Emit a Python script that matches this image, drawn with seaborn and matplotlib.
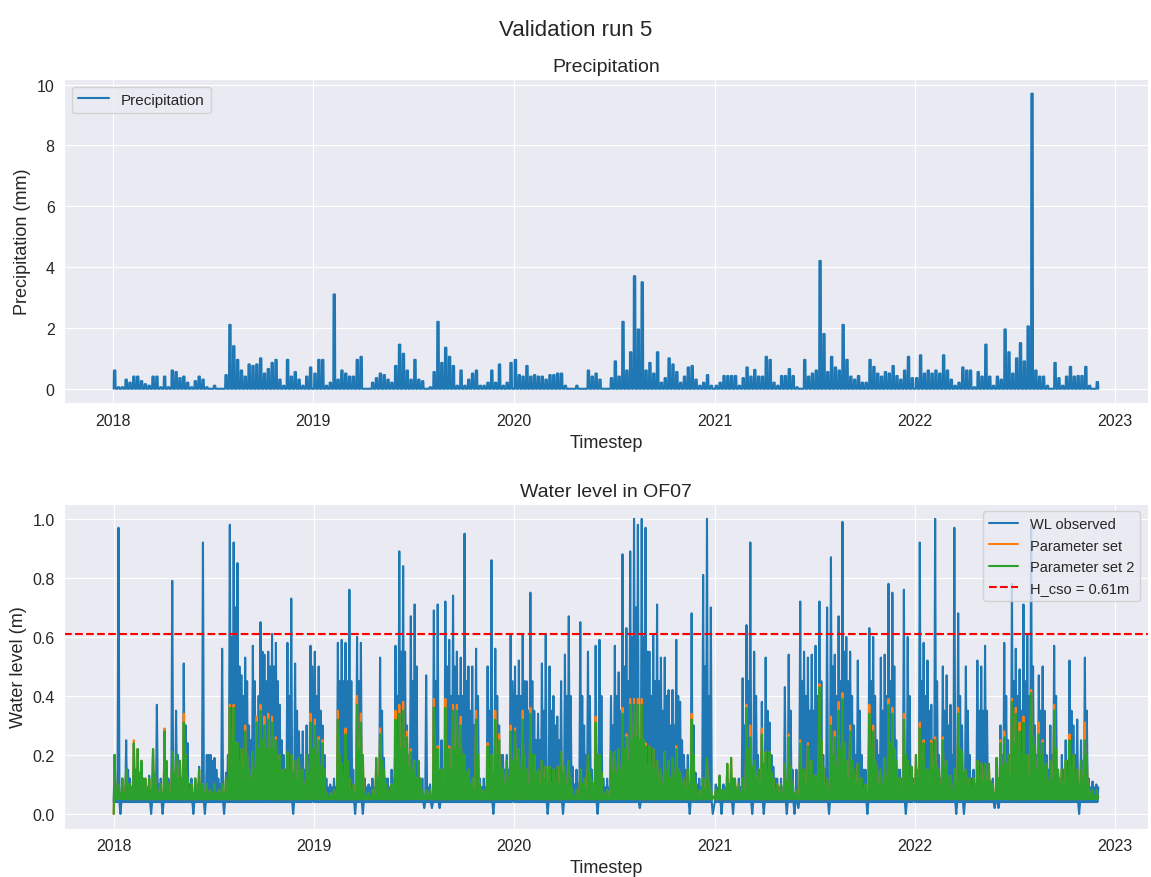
import pandas as pd
import matplotlib
matplotlib.use('Agg')
import matplotlib.pyplot as plt
import seaborn as sns

# weekly values, 52 weeks per year (2022 ends after 48 weeks)
# precipitation, highest value in each week (mm)
rain_peak = [
    0.6, 0.05, 0.05, 0.3, 0.2, 0.4, 0.4, 0.25, 0.15, 0.1, 0.4, 0.4, 0.05, 0.4, 0.05, 0.6, 0.55, 0.35, 0.4, 0.2, 0.05, 0.25, 0.4, 0.3, 0.05, 0.0,
    0.1, 0.0, 0.0, 0.45, 2.1, 1.4, 0.95, 0.6, 0.4, 0.8, 0.75, 0.8, 1.0, 0.5, 0.65, 0.85, 0.95, 0.3, 0.1, 0.95, 0.4, 0.55, 0.3, 0.1, 0.4, 0.7,
    0.5, 0.95, 0.95, 0.1, 0.2, 3.1, 0.3, 0.6, 0.5, 0.4, 0.4, 0.95, 1.05, 0.0, 0.0, 0.2, 0.35, 0.5, 0.45, 0.3, 0.2, 0.75, 1.45, 1.15, 0.6, 0.3,
    0.95, 0.3, 0.25, 0.0, 0.05, 0.55, 2.2, 0.85, 1.35, 1.05, 0.75, 0.1, 0.6, 0.1, 0.3, 0.5, 0.6, 0.1, 0.1, 0.2, 0.6, 0.2, 0.8, 0.1, 0.2, 0.85,
    0.95, 0.45, 0.4, 0.75, 0.4, 0.45, 0.4, 0.4, 0.3, 0.45, 0.45, 0.5, 0.5, 0.1, 0.0, 0.0, 0.1, 0.0, 0.0, 0.6, 0.4, 0.5, 0.3, 0.0, 0.0, 0.35,
    0.9, 0.4, 2.2, 0.6, 1.2, 3.7, 1.95, 3.5, 0.6, 0.85, 0.5, 1.2, 0.2, 0.35, 1.0, 0.8, 0.55, 0.2, 0.4, 0.7, 0.75, 0.3, 0.1, 0.2, 0.45, 0.1,
    0.1, 0.2, 0.42, 0.42, 0.42, 0.42, 0.1, 0.35, 0.7, 0.4, 0.62, 0.4, 0.4, 1.05, 0.95, 0.2, 0.1, 0.42, 0.42, 0.65, 0.42, 0.05, 0.0, 0.95, 0.4, 0.5,
    0.6, 4.2, 1.8, 0.55, 1.05, 0.7, 0.6, 2.1, 0.95, 0.4, 0.3, 0.42, 0.2, 0.2, 0.95, 0.72, 0.5, 0.4, 0.55, 0.5, 0.75, 0.42, 0.3, 0.6, 1.05, 0.35,
    0.35, 1.1, 0.5, 0.6, 0.5, 0.6, 0.5, 1.1, 0.6, 0.3, 0.1, 0.2, 0.7, 0.6, 0.6, 0.05, 0.55, 0.4, 1.45, 0.4, 0.1, 0.4, 0.3, 1.95,
    1.2, 0.5, 1.0, 1.5, 0.9, 2.05, 9.7, 0.6, 0.4, 0.4, 0.1, 0.0, 0.85, 0.35, 0.1, 0.4, 0.72, 0.4, 0.42, 0.42, 0.72, 0.1, 0.0, 0.22,
]

# observed water level (cm): weekly peak and a second, lower value (0 = sensor dip)
obs_peak = [
    20, 97, 12, 25, 12, 24, 22, 18, 10, 13, 22, 37, 12, 28, 12, 79, 35, 18, 51, 24, 12, 12, 16, 92, 20, 20,
    19, 12, 56, 14, 98, 92, 85, 47, 53, 30, 57, 31, 65, 54, 55, 61, 58, 37, 20, 58, 73, 51, 28, 28, 30, 57,
    55, 50, 30, 12, 10, 12, 58, 59, 58, 76, 15, 60, 58, 12, 10, 12, 15, 53, 19, 12, 15, 57, 89, 84, 30, 67,
    71, 17, 12, 47, 10, 69, 71, 25, 72, 59, 74, 55, 53, 95, 50, 50, 56, 12, 12, 50, 86, 56, 30, 20, 20, 61,
    50, 52, 61, 45, 75, 35, 34, 51, 61, 50, 40, 33, 45, 54, 67, 16, 15, 65, 30, 55, 15, 57, 59, 12, 12, 40,
    57, 48, 88, 63, 89, 100, 98, 100, 97, 55, 61, 71, 53, 53, 42, 42, 59, 38, 20, 20, 68, 14, 12, 81, 100, 70,
    10, 10, 10, 12, 12, 10, 12, 46, 64, 92, 55, 20, 38, 53, 31, 16, 12, 12, 43, 54, 15, 15, 72, 55, 53, 54,
    57, 72, 20, 70, 87, 54, 67, 99, 60, 55, 30, 52, 20, 15, 63, 60, 25, 53, 54, 78, 75, 25, 15, 76, 60, 15,
    15, 92, 58, 52, 37, 100, 20, 50, 47, 37, 97, 68, 30, 50, 20, 15, 52, 50, 57, 12, 12, 14, 30, 58,
    25, 78, 56, 49, 71, 61, 98, 30, 47, 50, 20, 30, 57, 15, 20, 25, 52, 30, 32, 25, 53, 12, 11, 10,
]
obs_second = [
    10, 0, 9, 15, 9, 12, 12, 10, 9, 0, 12, 10, 0, 15, 10, 12, 20, 12, 30, 10, 0, 10, 10, 0, 20, 18,
    15, 10, 0, 20, 60, 70, 50, 40, 45, 25, 45, 40, 55, 45, 50, 50, 45, 25, 15, 40, 0, 35, 20, 15, 20, 50,
    40, 35, 20, 9, 9, 9, 45, 45, 45, 45, 0, 45, 0, 9, 9, 9, 12, 35, 12, 9, 12, 40, 55, 55, 20, 45,
    50, 12, 2, 9, 2, 45, 2, 15, 50, 40, 50, 40, 40, 45, 35, 30, 40, 9, 9, 35, 0, 40, 20, 15, 15, 45,
    40, 40, 45, 35, 45, 25, 25, 35, 0, 35, 30, 25, 0, 40, 40, 10, 10, 40, 20, 40, 10, 0, 40, 9, 9, 30,
    40, 35, 50, 45, 60, 70, 2, 60, 55, 40, 45, 45, 35, 40, 30, 30, 40, 25, 15, 0, 30, 10, 9, 50, 40, 0,
    9, 0, 9, 9, 0, 9, 9, 30, 45, 0, 40, 15, 0, 35, 20, 12, 9, 9, 0, 35, 0, 2, 45, 40, 35, 35,
    40, 45, 15, 0, 50, 40, 45, 55, 45, 40, 20, 35, 15, 0, 45, 40, 20, 35, 40, 45, 50, 15, 12, 0, 40, 12,
    15, 45, 40, 35, 25, 45, 12, 35, 30, 20, 0, 40, 0, 35, 12, 10, 35, 35, 35, 9, 2, 2, 20, 40,
    20, 45, 40, 35, 45, 40, 50, 20, 35, 35, 15, 20, 40, 12, 15, 18, 35, 20, 0, 18, 35, 9, 9, 9,
]

# simulated water level (cm), weekly peaks of both parameter sets and a shared second value
set1_peak = [
    20, 10, 12, 15, 10, 25, 22, 18, 12, 12, 22, 10, 10, 29, 10, 21, 20, 18, 34, 12, 10, 12, 15, 10, 10, 8,
    10, 8, 10, 12, 37, 37, 24, 22, 30, 15, 21, 33, 37, 33, 34, 33, 26, 20, 15, 21, 20, 18, 19, 15, 20, 34,
    32, 26, 25, 7, 7, 8, 35, 17, 29, 12, 10, 40, 34, 7, 7, 8, 19, 29, 15, 8, 10, 35, 37, 38, 28, 22,
    18, 18, 8, 8, 8, 39, 23, 15, 39, 23, 37, 37, 33, 20, 15, 12, 35, 10, 8, 24, 20, 35, 27, 15, 18, 30,
    29, 22, 35, 15, 36, 20, 15, 18, 16, 16, 15, 16, 21, 16, 18, 8, 8, 15, 12, 20, 11, 33, 20, 7, 8, 21,
    21, 22, 36, 27, 39, 39, 39, 39, 24, 23, 22, 18, 15, 21, 18, 19, 23, 14, 12, 15, 34, 10, 8, 12, 19, 8,
    8, 13, 8, 17, 19, 12, 10, 12, 37, 30, 18, 15, 29, 21, 21, 12, 10, 10, 17, 27, 10, 8, 25, 15, 24, 18,
    13, 44, 16, 12, 33, 28, 38, 41, 18, 30, 15, 17, 12, 10, 37, 30, 16, 15, 19, 39, 36, 18, 12, 34, 18, 16,
    20, 31, 25, 15, 25, 26, 15, 26, 18, 13, 15, 36, 21, 15, 12, 12, 18, 17, 17, 17, 10, 19, 25, 28,
    20, 39, 36, 31, 33, 20, 42, 23, 31, 25, 17, 18, 37, 15, 15, 18, 27, 20, 15, 18, 31, 10, 8, 8,
]
set2_peak = [
    20, 10, 12, 15, 10, 24, 22, 18, 12, 12, 22, 10, 10, 28, 10, 21, 20, 18, 31, 12, 10, 12, 15, 10, 10, 8,
    10, 8, 10, 12, 36, 36, 24, 22, 28, 15, 21, 31, 35, 30, 32, 31, 25, 20, 15, 21, 20, 18, 19, 15, 20, 31,
    30, 25, 24, 7, 7, 8, 32, 17, 27, 12, 10, 37, 31, 7, 7, 8, 19, 27, 15, 8, 10, 32, 34, 35, 26, 21,
    18, 18, 8, 8, 8, 36, 22, 15, 36, 22, 35, 35, 30, 20, 15, 12, 32, 10, 8, 23, 20, 32, 25, 15, 18, 28,
    28, 22, 32, 15, 34, 20, 15, 18, 16, 16, 15, 16, 21, 16, 18, 8, 8, 15, 12, 20, 11, 31, 20, 7, 8, 21,
    21, 22, 34, 26, 37, 37, 37, 37, 23, 23, 22, 18, 15, 21, 18, 19, 22, 14, 12, 15, 32, 10, 8, 12, 19, 8,
    8, 13, 8, 17, 19, 12, 10, 12, 36, 26, 18, 15, 27, 21, 21, 12, 10, 10, 17, 26, 10, 8, 24, 15, 23, 18,
    13, 43, 16, 12, 30, 26, 35, 39, 18, 28, 15, 17, 12, 10, 34, 28, 16, 15, 19, 37, 34, 18, 12, 32, 18, 16,
    20, 29, 24, 15, 24, 25, 15, 25, 18, 13, 15, 34, 21, 15, 12, 12, 18, 17, 17, 17, 10, 19, 24, 26,
    20, 38, 34, 28, 31, 20, 41, 23, 27, 24, 17, 18, 35, 15, 15, 18, 25, 20, 15, 18, 25, 10, 8, 8,
]
model_second = [
    8, 7, 7, 10, 7, 15, 14, 12, 8, 8, 14, 7, 7, 18, 7, 14, 12, 12, 20, 8, 7, 8, 10, 7, 7, 7,
    7, 7, 7, 8, 25, 24, 18, 16, 20, 12, 15, 22, 25, 22, 22, 22, 18, 14, 10, 15, 14, 12, 14, 10, 14, 22,
    20, 16, 15, 6, 6, 6, 20, 12, 18, 8, 7, 22, 20, 6, 6, 6, 12, 18, 10, 6, 7, 20, 22, 22, 16, 14,
    12, 12, 6, 6, 6, 22, 15, 10, 22, 15, 22, 22, 20, 14, 10, 8, 20, 7, 6, 15, 14, 20, 16, 10, 12, 18,
    18, 15, 20, 10, 20, 14, 10, 12, 10, 10, 10, 10, 14, 10, 12, 6, 6, 10, 8, 14, 7, 20, 14, 6, 6, 14,
    14, 15, 22, 18, 25, 26, 25, 25, 16, 16, 15, 12, 10, 14, 12, 13, 15, 10, 8, 10, 20, 7, 6, 8, 12, 6,
    6, 8, 6, 10, 12, 8, 7, 8, 22, 16, 12, 10, 17, 14, 14, 8, 7, 7, 11, 16, 7, 6, 15, 10, 15, 12,
    9, 25, 10, 8, 20, 16, 22, 24, 12, 18, 10, 11, 8, 7, 22, 18, 10, 10, 12, 24, 22, 12, 8, 20, 12, 10,
    12, 18, 15, 10, 15, 16, 10, 16, 12, 8, 10, 22, 14, 10, 8, 8, 12, 11, 11, 11, 7, 12, 16, 17,
    13, 24, 22, 18, 20, 13, 26, 15, 20, 16, 11, 12, 22, 10, 10, 12, 16, 13, 10, 12, 20, 7, 6, 6,
]

obs_base = 0.04       # m, dry weather level observed
model_base = 0.05     # m, dry weather level simulated
model_start = 0.0     # m, simulation starts empty
h_cso = 0.61


def week_starts(n):
    return [pd.Timestamp(2018 + j // 52, 1, 1) + pd.Timedelta(days=7 * (j % 52)) for j in range(n)]


def level_series(peaks, seconds, base):
    times, vals = [], []
    for t0, p, s in zip(week_starts(len(peaks)), peaks, seconds):
        times += [t0, t0 + pd.Timedelta(hours=42), t0 + pd.Timedelta(hours=84), t0 + pd.Timedelta(hours=126)]
        vals += [base, p / 100, base, s / 100]
    return pd.DataFrame({'time': times, 'level': vals})


def rain_series(peaks):
    # one short block of rain per week, dry in between
    times, vals = [], []
    for t0, p in zip(week_starts(len(peaks)), peaks):
        times += [t0 + pd.Timedelta(hours=36), t0 + pd.Timedelta(hours=48),
                  t0 + pd.Timedelta(hours=108), t0 + pd.Timedelta(hours=120)]
        vals += [0.0, p, p, 0.0]
    return pd.DataFrame({'time': times, 'rain': vals})


df_rain = rain_series(rain_peak)
df_obs = level_series(obs_peak, obs_second, obs_base)
df_set1 = level_series(set1_peak, model_second, model_base)
df_set2 = level_series(set2_peak, model_second, model_base)
df_set1.loc[0, 'level'] = model_start
df_set2.loc[0, 'level'] = model_start

sns.set_style('darkgrid')
plt.rcParams['font.family'] = ['Liberation Sans', 'DejaVu Sans']

fig, (ax1, ax2) = plt.subplots(2, 1, figsize=(11.51, 8.78), dpi=100)
fig.subplots_adjust(left=0.056, right=0.997, top=0.909, bottom=0.055, hspace=0.31)
fig.suptitle('Validation run 5', fontsize=16, y=0.977)

sns.lineplot(data=df_rain, x='time', y='rain', ax=ax1, color='#1f77b4', label='Precipitation', linewidth=1.5)
ax1.set_title('Precipitation', fontsize=14)
ax1.set_xlabel('Timestep', fontsize=13)
ax1.set_ylabel('Precipitation (mm)', fontsize=13)
ax1.legend(loc='upper left', fontsize=11)

sns.lineplot(data=df_obs, x='time', y='level', ax=ax2, color='#1f77b4', label='WL observed', linewidth=1.5)
sns.lineplot(data=df_set1, x='time', y='level', ax=ax2, color='#ff7f0e', label='Parameter set', linewidth=1.5)
sns.lineplot(data=df_set2, x='time', y='level', ax=ax2, color='#2ca02c', label='Parameter set 2', linewidth=1.5)
ax2.axhline(h_cso, color='red', linestyle='--', linewidth=1.5, label='H_cso = 0.61m')
ax2.set_title('Water level in OF07', fontsize=14)
ax2.set_xlabel('Timestep', fontsize=13)
ax2.set_ylabel('Water level (m)', fontsize=13)
ax2.legend(loc='upper right', fontsize=10.5)

for ax in (ax1, ax2):
    ax.tick_params(labelsize=11.5)

fig.savefig('out.png', dpi=100)
